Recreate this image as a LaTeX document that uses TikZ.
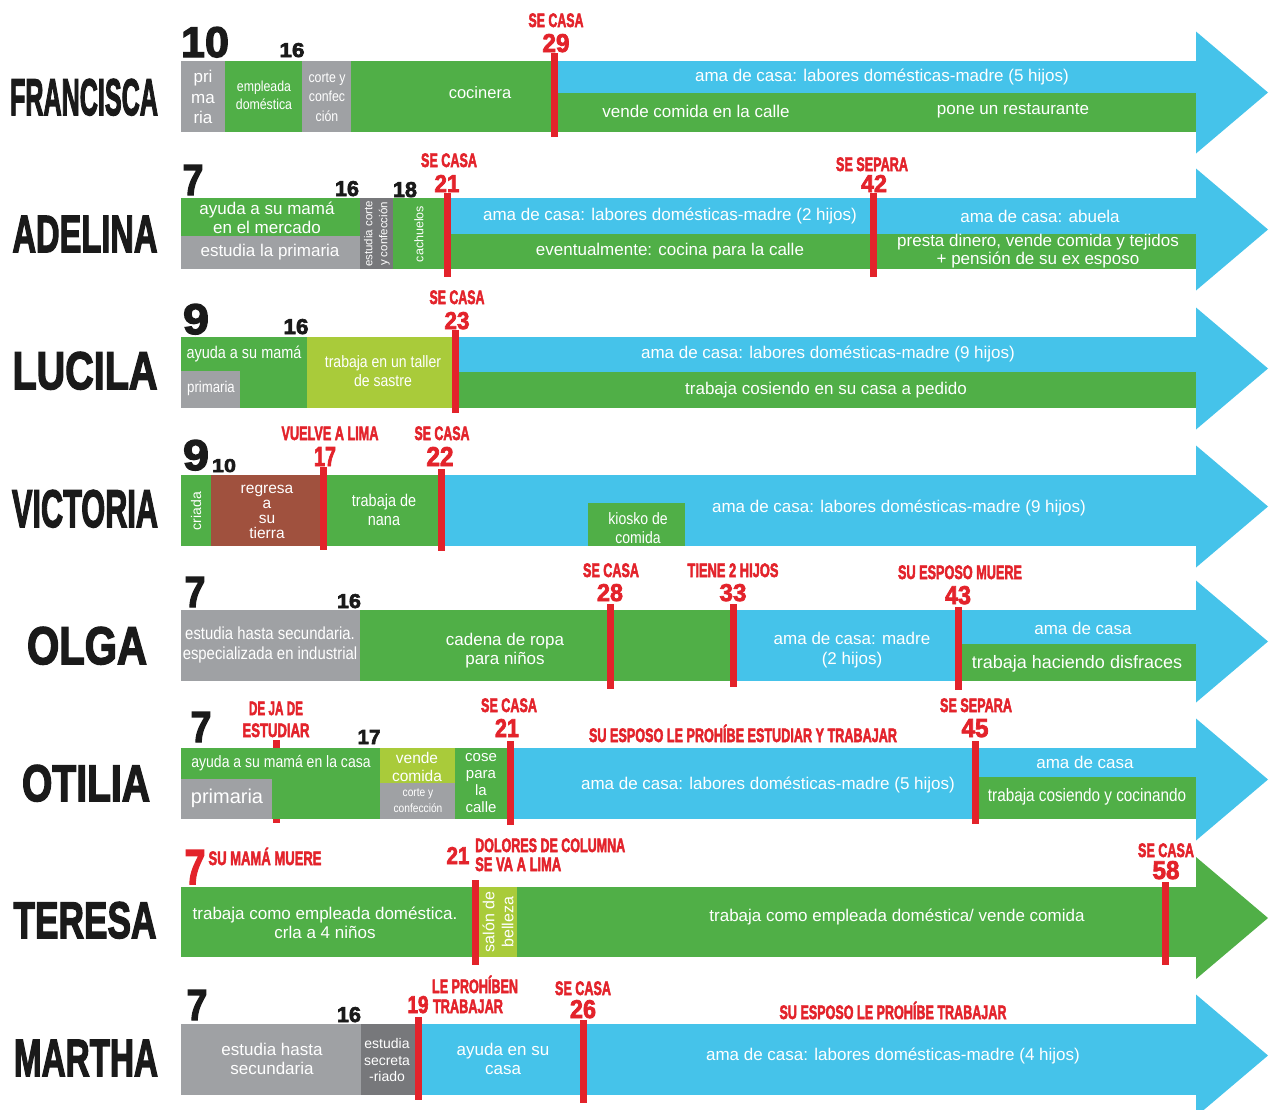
\documentclass[tikz,border=0pt]{standalone}
\usepackage{fontspec}
\usepackage{graphicx}
\setmainfont{Liberation Sans}
\newfontfamily\hv{Liberation Sans}[BoldFeatures={FakeBold=3}]
\newfontfamily\nar{Liberation Sans}[FakeStretch=0.85]
\definecolor{cblue}{HTML}{45C3EA}
\definecolor{cgreen}{HTML}{50AF47}
\definecolor{cgrey}{HTML}{9FA1A4}
\definecolor{cdgrey}{HTML}{77787B}
\definecolor{clgreen}{HTML}{A9CB3A}
\definecolor{cbrown}{HTML}{A0513E}
\definecolor{cred}{HTML}{E3232B}
\definecolor{cblack}{HTML}{1A1A1A}
\newcommand\fitwh[3]{\resizebox{#1pt}{#2pt}{\hv\bfseries #3}}
\newcommand\fitw[2]{\resizebox{#1pt}{\height}{\hv\bfseries #2}}
\newcommand\fsz[2]{\fontsize{#1}{#2}\selectfont}
\newcommand\redline[3]{\fill[cred] ({#1-3.5},#2) rectangle ({#1+3.5},#3);}
\newcommand\ahead[2]{\fill[#2] (1196,{#1-61}) -- (1268,#1) -- (1196,{#1+61}) -- cycle;}
\begin{document}
\begin{tikzpicture}[x=1pt,y=-1pt,
  wt/.style={text=white, align=center, inner sep=0pt, font=\fsz{17}{20}},
  rd/.style={text=cred, inner sep=0pt, anchor=base, font=\fsz{19.5}{20}},
  bk/.style={text=cblack, inner sep=0pt, anchor=base, font=\fsz{19.5}{20}}]
\useasboundingbox (0,0) rectangle (1272,1109);
\clip (0,0) rectangle (1272,1109);
\fill[white] (0,0) rectangle (1272,1109);

% ---------------- FRANCISCA
\fill[cgrey] (181,61) rectangle (225,132);
\fill[cgreen] (225,61) rectangle (302,132);
\fill[cgrey] (302,61) rectangle (351,132);
\fill[cgreen] (351,61) rectangle (556,132);
\fill[cblue] (556,61) rectangle (1197,93);
\fill[cgreen] (556,93) rectangle (1197,132);
\ahead{92.5}{cblue}
\redline{554}{53}{137}
\node[bk] (nFR) at (84,115) {\fitwh{148}{36}{FRANCISCA}};
\node[bk] (a1) at (205,57) {\fitwh{48}{30}{10}};
\node[bk] (a2) at (292,57) {\fitwh{25}{14}{16}};
\node[rd] (a3) at (556,27) {\fitw{55}{SE CASA}};
\node[rd] (a4) at (556,52) {\fitwh{27}{18}{29}};
\node[wt, font=\fsz{17}{20.5}] (t1) at (203,97) {pri\\ma\\ria};
\node[wt, font=\nar\fsz{14.5}{18}] (t2) at (264,95) {empleada\\doméstica};
\node[wt, font=\nar\fsz{14.5}{19.5}] (t3) at (327,97) {corte y\\confec\\ción};
\node[wt, font=\fsz{16.5}{20}] (t4) at (480,93) {cocinera};
\node[wt] (t5) at (882,77) {ama de casa: labores domésticas-madre (5 hijos)};
\node[wt] (t6) at (696,111) {vende comida en la calle};
\node[wt] (t7) at (1013,111) {pone un restaurante};

% ---------------- ADELINA
\fill[cgreen] (181,198) rectangle (360,236);
\fill[cgrey] (181,236) rectangle (360,269);
\fill[cdgrey] (360,198) rectangle (393,269);
\fill[cgreen] (393,198) rectangle (447,269);
\fill[cblue] (447,198) rectangle (1197,234);
\fill[cgreen] (447,234) rectangle (1197,269);
\ahead{229.5}{cblue}
\redline{447}{193}{277}
\redline{873}{193}{277}
\node[bk] (nAD) at (85,252) {\fitwh{145}{36}{ADELINA}};
\node[bk] (b1) at (193,195) {\fitwh{21}{30}{7}};
\node[bk] (b2) at (347,196) {\fitwh{24}{15}{16}};
\node[bk] (b3) at (405,197) {\fitwh{24}{15}{18}};
\node[rd] (b4) at (449,167) {\fitw{56}{SE CASA}};
\node[rd] (b5) at (447,192) {\fitwh{25}{17}{21}};
\node[rd] (b6) at (872,171) {\fitw{72}{SE SEPARA}};
\node[rd] (b7) at (874,192) {\fitwh{26}{17}{42}};
\node[wt, font=\fsz{17}{19}] (u1) at (267,218) {ayuda a su mamá\\en el mercado};
\node[wt] (u2) at (270,252) {estudia la primaria};
\node[wt, font=\fsz{11.5}{15}, rotate=90] (u3) at (377,234) {estudia corte\\y confección};
\node[wt, font=\fsz{12.5}{15}, rotate=90] (u4) at (419,234) {cachuelos};
\node[wt] (u5) at (670,216) {ama de casa: labores domésticas-madre (2 hijos)};
\node[wt] (u6) at (670,251) {eventualmente: cocina para la calle};
\node[wt] (u7) at (1040,216) {ama de casa: abuela};
\node[wt, font=\fsz{17}{18}] (u8) at (1038,251) {presta dinero, vende comida y tejidos\\+ pensión de su ex esposo};

% ---------------- LUCILA
\fill[cgreen] (181,337) rectangle (307,408);
\fill[cgrey] (181,371) rectangle (240,408);
\fill[clgreen] (307,337) rectangle (455,408);
\fill[cblue] (455,337) rectangle (1197,372);
\fill[cgreen] (455,372) rectangle (1197,408);
\ahead{368.5}{cblue}
\redline{455}{330}{413}
\node[bk] (nLU) at (85,389) {\fitwh{145}{37}{LUCILA}};
\node[bk] (c1) at (196,334) {\fitwh{26}{30}{9}};
\node[bk] (c2) at (296,334) {\fitwh{25}{15}{16}};
\node[rd] (c3) at (457,304) {\fitw{55}{SE CASA}};
\node[rd] (c4) at (457,329) {\fitwh{25}{17}{23}};
\node[wt, font=\nar\fsz{17}{20}] (v1) at (244,354) {ayuda a su mamá};
\node[wt, font=\nar\fsz{15.5}{20}] (v2) at (211,388) {primaria};
\node[wt, font=\nar\fsz{16.5}{19}] (v3) at (383,371) {trabaja en un taller\\de sastre};
\node[wt] (v4) at (828,354) {ama de casa: labores domésticas-madre (9 hijos)};
\node[wt] (v5) at (826,390) {trabaja cosiendo en su casa a pedido};

% ---------------- VICTORIA
\fill[cgreen] (181,475) rectangle (211,546);
\fill[cbrown] (211,475) rectangle (323,546);
\fill[cgreen] (323,475) rectangle (441,546);
\fill[cblue] (441,475) rectangle (1197,546);
\fill[cgreen] (588,503) rectangle (685,546);
\ahead{506.5}{cblue}
\redline{323}{467}{550}
\redline{441}{469}{551}
\node[bk] (nVI) at (85,527) {\fitwh{146}{37}{VICTORIA}};
\node[bk] (d1) at (196,470) {\fitwh{26}{30}{9}};
\node[bk] (d2) at (224,472) {\fitwh{24}{13}{10}};
\node[rd] (d3) at (330,440) {\fitw{97}{VUELVE A LIMA}};
\node[rd] (d4) at (325,466) {\fitwh{22}{19}{17}};
\node[rd] (d5) at (442,440) {\fitw{55}{SE CASA}};
\node[rd] (d6) at (440,466) {\fitwh{27}{19}{22}};
\node[wt, font=\fsz{14}{16}, rotate=90] (w1) at (196,511) {criada};
\node[wt, font=\fsz{15.5}{15}] (w2) at (267,512) {regresa\\a\\su\\tierra};
\node[wt, font=\nar\fsz{17}{19}] (w3) at (384,510) {trabaja de\\nana};
\node[wt, font=\nar\fsz{16.5}{19}] (w4) at (638,528) {kiosko de\\comida};
\node[wt] (w5) at (899,508) {ama de casa: labores domésticas-madre (9 hijos)};

% ---------------- OLGA
\fill[cgrey] (181,610) rectangle (360,681);
\fill[cgreen] (360,610) rectangle (733,681);
\fill[cblue] (733,610) rectangle (958,681);
\fill[cblue] (958,610) rectangle (1197,644);
\fill[cgreen] (958,644) rectangle (1197,681);
\ahead{641.5}{cblue}
\redline{610}{604}{689}
\redline{733}{604}{687}
\redline{958}{607}{690}
\node[bk] (nOL) at (87,664) {\fitwh{120}{37}{OLGA}};
\node[bk] (e1) at (195,607) {\fitwh{21}{30}{7}};
\node[bk] (e2) at (349,608) {\fitwh{24}{14}{16}};
\node[rd] (e3) at (611,577) {\fitw{56}{SE CASA}};
\node[rd] (e4) at (610,601) {\fitwh{26}{17}{28}};
\node[rd] (e5) at (733,577) {\fitw{91}{TIENE 2 HIJOS}};
\node[rd] (e6) at (733,601) {\fitwh{27}{17}{33}};
\node[rd] (e7) at (960,579) {\fitw{124}{SU ESPOSO MUERE}};
\node[rd] (e8) at (958,604) {\fitwh{26}{18}{43}};
\node[wt, font=\nar\fsz{17.5}{20}] (x1) at (270,645) {estudia hasta secundaria.\\especializada en industrial};
\node[wt, font=\fsz{17}{19}] (x2) at (505,651) {cadena de ropa\\para niños};
\node[wt, font=\fsz{17}{20}] (x3) at (852,650) {ama de casa: madre\\(2 hijos)};
\node[wt] (x4) at (1083,628) {ama de casa};
\node[wt, font=\fsz{18}{20}] (x5) at (1077,664) {trabaja haciendo disfraces};

% ---------------- OTILIA
\redline{276}{740}{823}
\fill[cgreen] (181,748) rectangle (380,819);
\fill[cgrey] (181,779) rectangle (272,819);
\fill[clgreen] (380,748) rectangle (455,783);
\fill[cgrey] (380,783) rectangle (455,819);
\fill[cgreen] (455,748) rectangle (510,819);
\fill[cblue] (510,748) rectangle (975,819);
\fill[cblue] (975,748) rectangle (1197,777);
\fill[cgreen] (975,777) rectangle (1197,819);
\ahead{779.5}{cblue}
\redline{510}{741}{825}
\redline{975}{741}{824}
\node[bk] (nOT) at (86,801) {\fitwh{128}{36}{OTILIA}};
\node[bk] (g1) at (201,742) {\fitwh{21}{30}{7}};
\node[rd] (g2) at (276,715) {\fitw{54}{DE JA DE}};
\node[rd] (g3) at (276,737) {\fitw{67}{ESTUDIAR}};
\node[bk] (g4) at (369,744) {\fitwh{23}{14}{17}};
\node[rd] (g5) at (509,712) {\fitw{56}{SE CASA}};
\node[rd] (g6) at (507,737) {\fitwh{24}{18}{21}};
\node[rd] (g7) at (743,742) {\fitw{308}{SU ESPOSO LE PROHÍBE ESTUDIAR Y TRABAJAR}};
\node[rd] (g8) at (976,712) {\fitw{72}{SE SEPARA}};
\node[rd] (g9) at (975,737) {\fitwh{27}{18}{45}};
\node[wt, font=\nar\fsz{16.5}{20}] (y1) at (281,763) {ayuda a su mamá en la casa};
\node[wt, font=\fsz{20}{22}] (y2) at (227,798) {primaria};
\node[wt, font=\fsz{15.5}{18}] (y3) at (417,767) {vende\\comida};
\node[wt, font=\nar\fsz{12}{16}] (y4) at (418,801) {corte y\\confección};
\node[wt, font=\fsz{15}{17}] (y5) at (481,783) {cose\\para\\la\\calle};
\node[wt] (y6) at (768,785) {ama de casa: labores domésticas-madre (5 hijos)};
\node[wt] (y7) at (1085,762) {ama de casa};
\node[wt, font=\nar\fsz{18}{20}] (y8) at (1087,797) {trabaja cosiendo y cocinando};

% ---------------- TERESA
\fill[cgreen] (181,887) rectangle (1197,957);
\fill[clgreen] (479,887) rectangle (517,957);
\ahead{918}{cgreen}
\redline{475}{880}{965}
\redline{1165}{882}{965}
\node[bk] (nTE) at (85,938) {\fitwh{143}{36}{TERESA}};
\node[rd] (h1) at (195,884) {\fitwh{21}{34}{7}};
\node[rd] (h2) at (265,865) {\fitw{113}{SU MAMÁ MUERE}};
\node[rd] (h3) at (458,864) {\fitwh{23}{17}{21}};
\node[rd, anchor=base west] (h4) at (475,852) {\fitw{150}{DOLORES DE COLUMNA}};
\node[rd, anchor=base west] (h5) at (475,871) {\fitw{86}{SE VA A LIMA}};
\node[rd] (h6) at (1166,857) {\fitw{56}{SE CASA}};
\node[rd] (h7) at (1166,879) {\fitwh{27}{18}{58}};
\node[wt, font=\fsz{17}{19}] (z1) at (325,923) {trabaja como empleada doméstica.\\crla a 4 niños};
\node[wt, font=\fsz{16}{19}, rotate=90] (z2) at (498,922) {salón de\\belleza};
\node[wt] (z3) at (897,917) {trabaja como empleada doméstica/ vende comida};

% ---------------- MARTHA
\fill[cgrey] (181,1024) rectangle (361,1095);
\fill[cdgrey] (361,1024) rectangle (418,1095);
\fill[cblue] (418,1024) rectangle (1197,1095);
\ahead{1055.5}{cblue}
\redline{418}{1017}{1100}
\redline{583}{1020}{1103}
\node[bk] (nMA) at (86,1076) {\fitwh{144}{36}{MARTHA}};
\node[bk] (k1) at (197,1020) {\fitwh{21}{30}{7}};
\node[bk] (k2) at (349,1022) {\fitwh{24}{15}{16}};
\node[rd] (k3) at (475,993) {\fitw{86}{LE PROHÍBEN}};
\node[rd] (k4) at (468,1013) {\fitw{70}{TRABAJAR}};
\node[rd] (k5) at (418,1013) {\fitwh{21}{17}{19}};
\node[rd] (k6) at (583,995) {\fitw{56}{SE CASA}};
\node[rd] (k7) at (583,1018) {\fitwh{26}{18}{26}};
\node[rd] (k8) at (893,1019) {\fitw{227}{SU ESPOSO LE PROHÍBE TRABAJAR}};
\node[wt, font=\fsz{17}{19}] (m1) at (272,1059) {estudia hasta\\secundaria};
\node[wt, font=\fsz{14}{16.5}] (m2) at (387,1060) {estudia\\secreta\\-riado};
\node[wt, font=\fsz{17}{19}] (m3) at (503,1059) {ayuda en su\\casa};
\node[wt] (m4) at (893,1056) {ama de casa: labores domésticas-madre (4 hijos)};
\end{tikzpicture}
\end{document}
